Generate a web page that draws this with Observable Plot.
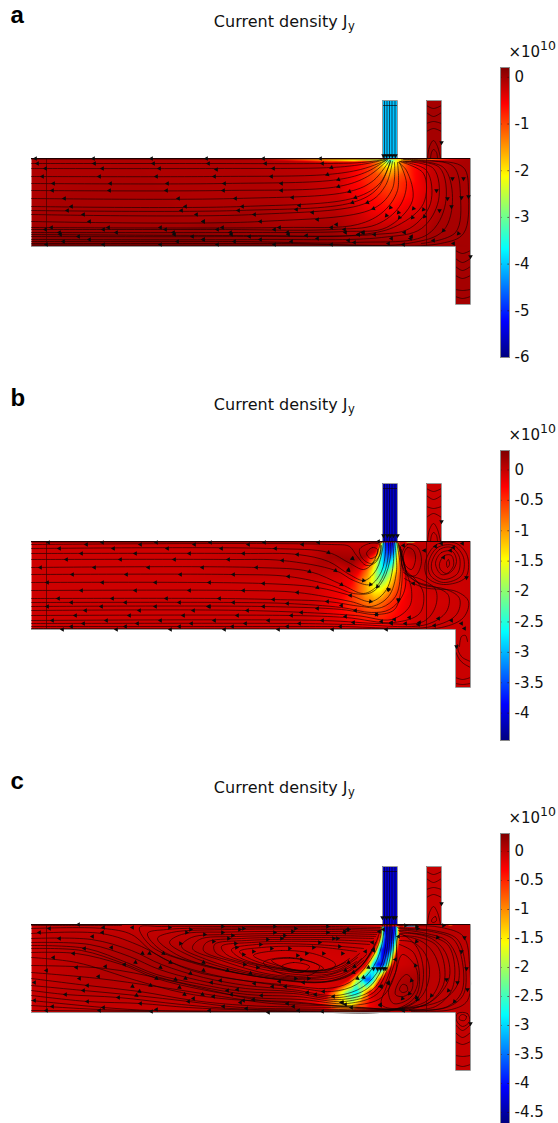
<!DOCTYPE html>
<html><head><meta charset="utf-8">
<style>html,body{margin:0;padding:0;background:#fff}#page{position:relative;width:558px;height:1123px;overflow:hidden}#page>div{position:absolute}svg{display:block;overflow:visible}</style>
<script src="https://cdn.jsdelivr.net/npm/d3@7"></script>
<script src="https://cdn.jsdelivr.net/npm/@observablehq/plot@0.6"></script>
</head><body><div id="page"></div><script>
const jet=["#00007f","#0000ff","#007fff","#00ffff","#7fff7f","#ffff00","#ff7f00","#ff0000","#7f0000"];
const panelLetters=["a","b","c"];
const domains=[[-6,0.21],[-4.45,0.32],[-4.69,0.31]];
const ticks=[[0,-1,-2,-3,-4,-5,-6],[0,-0.5,-1,-1.5,-2,-2.5,-3,-3.5,-4],[0,-0.5,-1,-1.5,-2,-2.5,-3,-3.5,-4,-4.5]];
const feedValues=[-4.05,-4.1,-4.25];
const leadValues=[-0.02,-0.03,-0.03];
const outline=[0,0,351,0,351,-58,366,-58,366,0,395,0,395,-58,410,-58,410,0,439,0,439,146,424,146,424,88,0,88];

// x,y,value triples read from the colour field
const fieldA=[355,1,-3.2,358,1,-3.5,361,1,-3.2,358,3,-3.1,352,2,-2.3,354,5,-2.3,358,7,-2.3,362,5,-2.3,364,2,-2.3,346,2,-1.3,349,8,-1.6,358,13,-1.7,367,8,-1.6,370,2,-1.3,336,3,-.75,342,14,-1,358,24,-1.05,373,14,-1,380,3,-.7,318,4,-.4,328,22,-.65,335,40,-.55,358,44,-.72,380,40,-.55,385,25,-.55,398,4,-.25,290,4,-.18,305,35,-.28,335,62,-.3,358,60,-.38,370,64,-.3,402,40,-.22,420,10,-.08,0,0,-.08,100,0,-.08,200,0,-.09,0,40,-.08,150,40,-.09,250,40,-.1,0,65,-.03,150,66,-.03,260,65,-.08,0,78,.1,150,78,.1,280,78,.05,340,80,0,400,75,-.03,0,88,.15,150,88,.15,300,88,.12,400,88,.03,439,88,-.02,439,50,-.04,439,0,-.05,420,40,-.08];
const fieldB=[347,1,-.05,350,1,-1.4,352,1,-3,354,1,-3.8,358,1,-4.05,362,1,-3.8,364,1,-3,366,1,-1.4,368,1,-.05,
344,10,-.1,347,10,-.9,349,10,-1.8,351,10,-2.8,354,10,-3.5,358,10,-3.7,362,10,-3.4,364,10,-2.7,366,10,-1.6,368,10,-.7,370,10,-.1,
335,20,-.15,340,20,-.8,345,20,-1.6,349,20,-2.5,353,20,-3.1,357,20,-3.1,361,20,-2.6,364,20,-1.8,367,20,-1,370,20,-.2,
327,30,-.2,335,30,-.8,341,30,-1.4,346,30,-2.1,351,30,-2.6,355,30,-2.4,360,30,-1.8,365,30,-1.1,369,30,-.55,373,30,-.15,
320,40,-.25,330,40,-.8,338,40,-1.3,344,40,-1.8,349,40,-2,354,40,-1.8,360,40,-1.2,366,40,-.7,372,40,-.35,378,40,-.12,
314,50,-.25,326,50,-.65,336,50,-1.1,343,50,-1.4,349,50,-1.4,356,50,-1,364,50,-.6,372,50,-.35,380,50,-.12,
304,60,-.2,320,60,-.5,333,60,-.8,343,60,-.95,352,60,-.75,362,60,-.45,372,60,-.25,384,60,-.1,
290,72,-.12,313,72,-.3,335,72,-.5,350,72,-.5,365,72,-.3,382,72,-.1,
270,87,-.05,330,87,-.2,355,87,-.25,385,87,-.07,
0,0,-.05,0,87,-.05,150,0,-.05,150,40,-.05,150,87,-.05,280,0,-.03,280,40,-.05,400,0,-.02,400,40,-.02,400,87,-.03,420,60,-.05,439,0,-.02,439,87,-.03,
300,15,.15,320,20,.2,335,14,.1,280,25,.05,378,10,.1,390,20,.05];
const fieldC=[349,2,-.1,351,2,-2.2,353,2,-4,358,2,-4.4,364,2,-4,366,2,-2.2,368,2,-.1,
348,12,-.1,350,12,-1.5,352,12,-3,354,12,-4,358,12,-4.3,362,12,-4,365,12,-2.8,367,12,-1.2,369,12,-.1,
342,25,-.1,345,25,-1,347,25,-2.5,349,25,-3.5,352,25,-4.2,356,25,-4.2,359,25,-3.7,362,25,-2.6,365,25,-1,367,25,-.1,
334,40,-.1,337,40,-1.2,340,40,-2.3,343,40,-3.3,346,40,-4,350,40,-4.1,353,40,-3.5,356,40,-2.5,359,40,-1.2,362,40,-.1,
317,55,-.1,322,55,-1.1,326,55,-1.9,330,55,-2.8,334,55,-3.6,338,55,-3.7,341,55,-3,344,55,-2,347,55,-1,351,55,-.1,
295,68,-.1,302,68,-.8,310,68,-1.6,316,68,-2.3,322,68,-2.9,326,68,-2.9,330,68,-2.1,334,68,-1.2,338,68,-.4,342,68,-.1,
280,78,-.15,295,78,-.6,305,78,-1.1,315,78,-1.6,320,78,-1.8,325,78,-1.4,330,78,-.8,338,78,-.3,350,78,-.05,
260,88,-.05,300,88,-.3,320,88,-.5,340,88,-.2,370,88,-.02,
0,0,-.05,0,88,-.05,100,0,-.05,100,88,-.05,200,0,-.05,200,30,-.08,260,40,-.1,290,30,-.1,300,5,-.03,180,88,-.05,240,88,-.02,439,0,0,439,88,0,400,40,.02,375,60,.12,390,10,.05,400,88,0,
106,34,.1,140,42,.12,170,50,.12,200,62,.12,230,75,.12,260,82,.06];

const linesA=[[0,.5,350,.5],[0,5,170,5,290,5,330,4,353,1],[0,10,185,10,300,9,330,6,355,1],[0,18,183,18,296,16,329,11,347,5,356,1],[0,25,193,25,307,21,336,13,354,2],[0,32,192,32,307,28,336,18,356,2],[0,40,204,40,318,33,342,22,358,2],[0,48,211,48,324,39,349,24,359,2],[0,52,207,52,321,44,346,30,359,3],[0,56,223,56,336,44,354,27,361,3],[0,63,229,63,342,50,361,30,363,4],[0,69,250,69,326,66,352,53,366,32,366,4],[0,71,186,71,300,71,345,66,368,48,375,25,368,4],[0,74,199,74,313,73,355,69,381,42,375,12,367,4],[0,76,218,77,331,76,366,67,392,45,392,15,368,3],[0,78,218,78,343,76,378,70,399,45,395,12,369,3],[0,81,229,81,350,79,390,70,407,42,402,10,372,3],[0,83,203,83,323,84,396,76,414,45,408,9,374,3],[0,85,250,85,376,85,412,72,421,39,412,9,380,2],[0,86.5,300,86.5,409,85,432,75,437,35,432,9,400,2,372,1],[390,85,424,74,429,38,422,8,390,2,370,1.5],
[395,-53,402,-50,410,-53],[395,-46,402,-42,410,-46],[395,-35,402,-37,410,-35],[395,-27,402,-30,410,-27],[396,0,398,-12,402,-18,406,-12,409,0],[399,0,400,-6,402,-9,405,-6,406,0],
[424,92,431,95,439,92],[424,100,431,104,439,100],[424,108,431,112,439,108],[424,117,431,120,439,117],[424,131,431,132,439,131],[424,138,431,140,439,138],
[353,-58,353,0],[355.5,-58,355.5,0],[358,-58,358,0],[360.5,-58,360.5,0],[363.5,-58,363.5,0],[351,-53,366,-53],[351,-3,366,-3]];
const linesB=[[0,.5,345,.5],[0,3,300,3,318,5,325,14,335,24,345,20,350,4],[0,7,240,7,297,11,317,21,332,28,341,22,348,5,350,0],[0,12,210,12,266,13,297,20,318,33,333,39,345,28,351,8,352,0],[0,18,197,18,251,19,304,29,322,39,339,43,350,30,354,10,354,0],[0,26,225,26,278,30,310,43,332,52,345,45,354,28,357,10,357,0],[0,33,202,33,257,35,300,44,322,52,340,51,352,38,359,15,359,0],[0,41,232,42,286,46,319,54,340,60,355,48,362,20,361,0],[0,49,212,49,266,51,319,60,340,65,357,55,365,30,363,0],[0,57,188,57,242,58,296,60,330,65,350,66,364,55,369,30,365,0],[0,61,202,61,256,62,310,66,340,71,358,68,372,52,374,28,368,8,366,0],
[0,65,232,65,310,68,345,73,363,68,370,45,370,20,367,2],[0,69,216,69,324,74,360,78,378,65,380,48,376,34,372,20,368,4],[0,74,260,74,314,76,362,81,388,72,392,52,384,38,374,28,369,6],[0,79,291,79,350,82,392,80,404,65,404,48,390,38,376,32,370,8],[0,82,268,82,322,83,395,83,415,70,417,54,405,46,385,40,371,25,369,5],[0,85,256,85,309,85,400,85,425,73,428,57,415,48,390,43,372,31],[0,87,355,87,410,86,432,76,437,60,425,50,392,46,373,37],
[395,-53,402,-50,410,-53],[395,-46,402,-42,410,-46],[395,-35,402,-33,410,-35],[395,-24,402,-28,410,-24],[396,0,398,-12,402,-18,406,-12,409,0],[399,0,400,-6,402,-9,405,-6,406,0],
[428,105,430,95,434,94,436,100],[426,103,427,110,431,116,439,120],[424,110,428,118,432,122,439,126],[424,136,431,138,439,136],[424,142,431,143,439,142],
[353,-58,353,0],[355.5,-58,355.5,0],[358,-58,358,0],[360.5,-58,360.5,0],[363.5,-58,363.5,0],[351,-53,366,-53]];
const loopsB=[[372,14,376,6,382,9,384,18,380,28,374,24],[370,14,376,3,386,6,390,20,384,34,374,32],[400,22,408,8,420,6,428,16,426,32,412,38,402,32],[397,21,406,6,422,4,432,16,430,34,412,41,399,34],[394,20,405,3,425,2,436,15,434,36,412,43,396,36],[404,22,410,11,421,10,425,20,420,30,410,33],[408,22,413,14,420,14,422,24,415,32,409,28],[335,12,341,6,346,8,345,14,339,17],[328,8,338,2,348,3,349,12,340,22,331,17],[415,21,417,18,418,23,416,26]];
const linesC=[[0,1,40,1,90,1],[0,4,72,4,100,10,122,28,160,46,205,55,260,61,295,64,318,58,336,40,347,20,351,0],[0,9,70,9,110,22,140,38,180,50,225,58,265,63,300,67,325,60,342,42,350,22,353,0],[0,14,60,15,100,26,130,40,172,53,215,61,260,65,305,71,332,62,348,44,354,22,355,0],[0,18,58,20,98,32,128,45,168,56,214,64,261,67,308,73,336,64,350,45,356,21,356,0],[0,21,55,24,95,38,125,50,165,59,212,67,262,69,310,75,340,66,353,46,358,20,358,0],[0,24,50,26,92,39,125,52,168,62,216,70,266,72,313,77,342,68,355,47,360,20,359,0],[0,28,45,29,90,40,125,54,170,65,220,73,270,75,316,79,345,70,358,48,362,20,360,0],[0,33,45,38,105,56,150,68,200,75,256,77,320,81,350,73,364,48,365,22,363,0],
[0,41,74,44,129,54,180,66,230,76,270,79,330,83,375,86,420,85,436,76,438,40,432,12,410,3,380,1,366,1],[0,48,67,54,125,62,190,72,240,79,300,81.5,370,85,415,83,432,70,433,35,425,14,402,6,378,4,366,3],[0,54,56,61,108,67,162,76,215,81,300,83,370,84,410,76,426,60,426,35,415,16,395,9,376,6,367,6],[0,61,52,66,105,71,157,77,209,83,280,84.5,350,85,388,82,406,72,418,52,414,28,400,14,380,9,368,9],[0,66,34,70,87,73,150,80,209,84.5,290,85.5,360,85,396,76,408,56,404,32,392,18,375,12,368,12],[0,71,56,77,109,79,157,83,215,85.5,300,86.5,370,84,390,72,398,50,394,30,382,18,368,16],[0,76,72,83,120,86,178,86.5,267,87,360,86,384,72,388,52,382,28,368,20],[0,81,68,85,130,86.5,250,87.5,376,86],[0,86,120,87],[380,87,416,82,430,68,431,38,422,15,400,7,378,5,367,4],[378,86,404,82,420,66,423,40,416,20,396,11,376,8,368,7],[378,85,398,78,412,60,412,36,404,20,388,13,372,11],
[350,3,300,2,200,2,130,2,108,3,120,22,160,38,225,52,290,58,320,50,340,28,348,8],[350,4.5,300,3.5,200,3.5,135,5,116,9,130,26,175,41,240,54,296,57,325,46,342,23],[349,6,300,5,200,5,140,8,126,14,145,30,190,45,250,55,300,56,330,41,344,18],[347,8,300,7,200,7.5,150,10,138,18,160,32,208,47,265,55,308,52,332,36],[345,10,300,9,200,10,160,13,150,22,175,35,225,49,280,54,315,47,335,30],[344,12,295,11,205,12,168,15,161,24,190,36,240,50,290,52,320,42,330,34],[342,14,290,13,210,14,175,18,172,26,205,38,255,49,300,49,325,37],[340,17,288,15,215,16,183,20,184,28,220,40,268,48,305,46,326,33],[338,20,285,17,220,18,190,22,195,30,235,42,280,47,310,42,328,29],[332,24,282,20,225,20,200,25,208,33,248,44,290,46,314,38],[325,27,280,22,230,23,208,27,220,35,260,45,300,44,318,34],
[395,-53,402,-50,410,-53],[395,-46,402,-42,410,-46],[395,-35,402,-37,410,-35],[395,-27,402,-30,410,-27],[396,0,398,-12,402,-18,406,-12,409,0],
[424,100,431,106,439,100],[424,108,431,113,439,108],[424,117,431,120,439,117],[424,131,431,132,439,131],[424,140,431,142,439,140],
[353,-58,353,0],[355.5,-58,355.5,0],[358,-58,358,0],[360.5,-58,360.5,0],[363.5,-58,363.5,0],[351,-53,366,-53]];
const loopsC=[[368,10,385,22,392,50,385,75,365,84,350,80,355,62,364,35],[371,30,384,42,386,60,378,74,362,79,357,68,364,48],[375,50,381,56,380,66,372,72,364,70,367,58],[371,60,375,61,376,66,371,68,368,65],[250,42,262,38,278,42,270,48,256,46],[232,38,258,33,288,42,280,50,252,50],[240,36,262,34,284,39,292,44,278,47,256,44],[222,31,250,26,285,30,304,40,295,47,262,45],[401,-6,404,-8,405,-4,402,-2,400,-3],[431,90,435,92,433,96,428,95,428,92],[426,89,436,89,438,97,431,102,425,96]];

// arrows: x,y pairs per direction (rotation in degrees)
const arrowsA=[[-90,[4,0,6,5,14,10,11,18,22,25,21,32,33,40,40,48,36,52,52,56,58,63,14,71,20,69,28,74,29,76,47,78,58,81,32,83,15,86,72,86,72,71,77,69,85,74,62,0,63,5,71,10,68,18,79,25,78,32,175,0,177,5,185,11,183,18,193,25,192,32,204,40,211,48,207,52,223,56,229,63,172,63,191,69,186,71,199,74,200,76,218,78,229,81,203,83,186,86,172,81,232,0,234,5,242,10,240,18,250,25,250,32,261,39,268,47,265,51,281,54,286,61,248,69,243,71,256,74,257,76,275,77,286,80,260,83,243,86,289,0,291,5,305,66,300,69,313,71,314,74,331,74,343,76,327,76,317,82,300,86,323,84,357,85,372,86,402,82,422,85,332,74,327,76,360,80,380,78,379,80,373,74,120,0,122,5,128,10,125,18,136,25,135,32,147,40,154,48,150,52,165,56,172,63,129,69,134,71,142,74,143,76,161,78,172,81,146,83,129,86]],
[-110,[300,9,296,16,307,21,307,28,318,33,324,39,321,44,336,44,342,50]],
[-140,[359,49,355,57,367,54,368,59,382,50,381,59,392,51,393,58,412,72,427,75]],
[180,[405,32,408,52,416,40,420,48,421,20,432,20,430,39,437,38,410,-16,439,98,352,-3,355,-3,358,-3,361,-3,364,-3]]];
const arrowsB=[[-90,[17,1,71,1,125,1,55,3,109,3,163,3,28,7,82,7,136,7,50,12,104,12,158,12,35,18,89,18,143,18,9,26,63,26,117,26,171,26,41,33,95,33,149,33,16,41,71,41,124,41,178,41,50,49,104,49,158,49,27,57,81,57,135,57,40,61,94,61,148,61,16,65,70,65,124,65,178,65,54,69,108,69,162,69,44,74,98,74,152,74,21,79,75,79,129,79,52,82,106,82,160,82,40,85,94,85,148,85,31,88,85,88,139,88,179,1,233,1,287,1,347,0,217,3,271,3,190,7,244,7,212,12,266,13,197,18,251,19,225,26,202,33,257,35,232,42,212,49,266,51,188,57,242,58,202,61,256,62,177,65,232,65,216,69,270,71,206,74,260,74,314,75,183,79,237,79,291,79,214,82,268,82,322,81,201,85,256,85,309,85,193,88,247,88,301,88,355,88,296,60,310,64,286,67,324,69,319,54,345,73,350,80,360,82,363,78,360,81,374,82,378,76,388,81,387,83,403,84,407,77,420,79,430,82,433,87]],
[-110,[297,11,321,17,304,29,317,29,278,30,310,43,286,46,317,28,321,17]],
[-140,[332,39,339,43,346,45,339,60,345,73,357,48]],
[150,[372,4,393,9,404,5,410,2,419,9,422,6,431,2,412,16,382,42]],
[180,[357,48,367,59,367,58,435,36,410,-20,425,105,352,-6,356,-6,359,-6,362,-6,366,-6]]];
const arrowsC=[[-90,[47,0,18,4,8,8,72,3,101,3,71,8,28,14,61,12,53,24,80,23,22,33,42,29,74,42,93,40,45,43,15,46,48,54,67,52,3,58,56,61,52,66,34,70,87,73,3,76,56,77,109,79,157,77,162,74,21,82,72,83,15,86,68,86,120,87,125,85,178,86,209,78,192,82,215,84,237,88,267,86,291,87,262,82,256,79,222,75,230,71,212,76,182,72,200,70,196,66,206,65,180,58,189,56,223,59,241,62,248,57,254,62,272,58,276,68,284,70,302,72,292,67,311,78,320,83,314,80,310,78,349,80,349,81,370,85,372,86]],
[-115,[111,29,118,29,104,38,132,29,129,43,139,38,172,38,159,49,172,46,196,46,101,62,119,61,144,55,125,54,154,54,108,67,105,71,148,63,153,70,171,70,219,49,326,54,332,53,322,48,314,46,323,42,317,38,337,43]],
[90,[138,3,155,8,159,5,173,10,191,2,191,8,208,5,212,4,197,14,201,11,149,19,182,17,204,19,229,20,236,15,205,23,222,27,240,24,258,24,250,14,253,11,243,8,243,2,261,7,264,4,296,2,296,8,313,7,317,5,288,18,302,14,306,14,282,23,308,22,311,29,292,29,275,29,266,31,270,35,212,30,213,40,226,43,264,54,277,54,374,1,385,2,386,4,412,1]],
[30,[334,27,342,25,341,18,342,26,348,7,352,5,313,8,316,5,350,62,357,59,349,62,357,58,364,35,367,12]],
[180,[342,44,346,44,349,44,352,44,354,44,351,-7,355,-7,358,-7,362,-7,364,-7,433,13,430,27,435,44,436,65,415,55,426,58,410,-21,439,99]],
[-140,[406,13,385,17,384,41,380,56,378,69,371,74,385,73,386,75,400,71,417,66,423,77]]];

const pairs=(f)=>d3.range(0,f.length,2).map(i=>({x:f[i],y:f[i+1]}));
const trips=f=>d3.range(0,f.length,3).map(i=>({x:f[i],y:f[i+1],v:f[i+2]}));
const rows=L=>L.flatMap((f,id)=>pairs(f).map(p=>({...p,id})));
const arrows=A=>A.flatMap(([rot,f])=>pairs(f).map(p=>({...p,rot})));
const fonts="'DejaVu Sans',sans-serif";
const colorOf=i=>({type:"linear",domain:domains[i],interpolate:d3.piecewise(d3.interpolateRgb,jet),clamp:true});
const page=document.getElementById("page");
const panels=[[fieldA,linesA,[],arrowsA],[fieldB,linesB,loopsB,arrowsB],[fieldC,linesC,loopsC,arrowsC]];
panels.forEach(([field,lines,loops,arr],i)=>{
  const leads=[{x1:351,x2:366,y1:-58,y2:0,v:feedValues[i]},{x1:395,x2:410,y1:-58,y2:0,v:leadValues[i]},{x1:424,x2:439,y1:88,y2:146,v:leadValues[i]}];
  const main=Plot.plot({width:558,height:383,margin:0,style:{background:"transparent",fontFamily:fonts},
    x:{domain:[-31,527],range:[0,558],axis:null},y:{domain:[-158,225],range:[0,383],axis:null},color:colorOf(i),
    marks:[
      Plot.rect(leads,{x1:"x1",x2:"x2",y1:"y1",y2:"y2",fill:"v"}),
      Plot.raster(trips(field),{x:"x",y:"y",fill:"v",x1:0,x2:439,y1:0,y2:88,interpolate:"barycentric",pixelSize:1}),
      Plot.line(rows(lines),{x:"x",y:"y",z:"id",curve:"catmull-rom",stroke:"#120000",strokeWidth:.7,strokeOpacity:.9}),
      loops.length?Plot.line(rows(loops),{x:"x",y:"y",z:"id",curve:"catmull-rom-closed",stroke:"#120000",strokeWidth:.7,strokeOpacity:.9}):null,
      Plot.ruleX([15],{y1:0,y2:88,stroke:"#400000",strokeWidth:1,strokeOpacity:.7}),
      Plot.ruleX([395],{y1:0,y2:88,stroke:"#400000",strokeWidth:1,strokeOpacity:.7}),
      Plot.line(pairs(outline),{x:"x",y:"y",stroke:"#9a9a9a",strokeWidth:1}),
      Plot.ruleY([0],{x1:0,x2:439,stroke:"#200000",strokeWidth:1}),
      Plot.dot(arrows(arr),{x:"x",y:"y",symbol:"triangle",r:1.7,fill:"#0a0a0a",stroke:"none",rotate:"rot"}),
      Plot.text(["Current density J"],{x:[316],y:[-136.5],textAnchor:"end",fontSize:16,fill:"#111"}),
      Plot.text(["y"],{x:[316.5],y:[-132.5],textAnchor:"start",fontSize:11.5,fill:"#111"}),
      Plot.text(["×10"],{x:[477],y:[-106],textAnchor:"start",fontSize:15,fill:"#111"}),
      Plot.text(["10"],{x:[508.5],y:[-113],textAnchor:"start",fontSize:12.5,fill:"#111"}),
      Plot.text([panelLetters[i]],{x:[-21],y:[-143],textAnchor:"start",fontSize:24,fontWeight:"bold",fontFamily:"'Liberation Sans',Arial,sans-serif",fill:"#000"})
    ]});
  const w=document.createElement("div");w.style.left="0";w.style.top=(383*i)+"px";w.append(main);page.append(w);
  const [lo,hi]=domains[i];
  const bar=Plot.plot({width:68,height:310,marginLeft:10,marginRight:49,marginTop:10,marginBottom:10,style:{background:"transparent",fontFamily:fonts,overflow:"visible"},
    x:{domain:[0,1],axis:null},y:{domain:[lo,hi],axis:null},color:colorOf(i),
    marks:[
      Plot.raster({fill:(x,y)=>y,x1:0,x2:1,y1:hi,y2:lo,pixelSize:1}),
      Plot.ruleY(ticks[i],{x1:0,x2:.18,stroke:"#300",strokeOpacity:.6}),
      Plot.ruleY(ticks[i],{x1:.82,x2:1,stroke:"#300",strokeOpacity:.6}),
      Plot.frame({stroke:"#8a8a8a"}),
      Plot.axisY(ticks[i],{anchor:"right",tickSize:0,tickPadding:5,fontSize:15,fill:"#111",label:null,tickFormat:d=>String(d)})
    ]});
  const b=document.createElement("div");b.style.left="490px";b.style.top=(57+383*i)+"px";b.append(bar);page.append(b);
});
</script></body></html>
